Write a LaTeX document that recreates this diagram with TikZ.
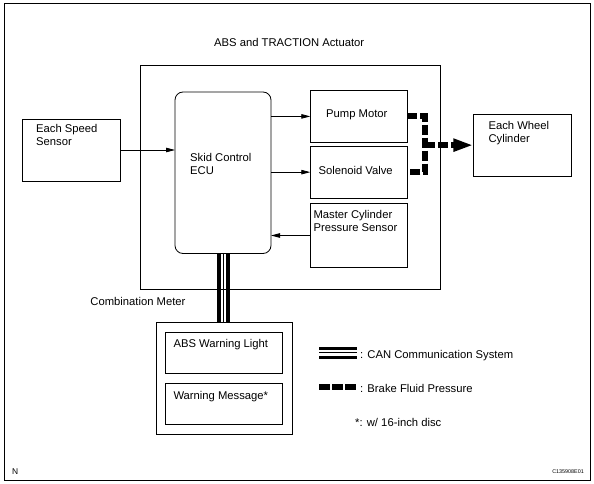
\documentclass[tikz,border=0pt]{standalone}
\usepackage{fontspec}
\setmainfont{Liberation Sans}
\usetikzlibrary{arrows.meta,calc}
\begin{document}
\begin{tikzpicture}[x=1pt,y=-1pt,
  box/.style={draw,line width=0.8pt,inner sep=0pt,outer sep=0pt},
  lbl/.style={anchor=base west,inner sep=0pt,font=\fontsize{11.25}{13.5}\selectfont},
  lblr/.style={anchor=base east,inner sep=0pt,font=\fontsize{11.25}{13.5}\selectfont},
  arr/.style={line width=0.8pt,-{Triangle[length=9pt,width=4.5pt]}},
  fluid/.style={line width=6pt,dash pattern=on 10pt off 3pt,line join=miter,line cap=butt},
  canthick/.style={line width=4pt},
  canthin/.style={line width=0.8pt}]
\useasboundingbox (0,0) rectangle (594,484);
\draw[line width=0.9pt] (4.5,3) rectangle (590,480.5);

% actuator frame
\node[box,minimum width=300.5pt,minimum height=223.3pt] (act) at (290.25,177.35) {};
\node[lbl] (acttxt) at (214,46.3) {ABS and TRACTION Actuator};

% boxes
\node[box,minimum width=98pt,minimum height=62pt] (speed) at (71,150) {};
\node[box,rounded corners=8pt,minimum width=96pt,minimum height=161.5pt] (ecu) at (223,172.75) {};
\node[box,minimum width=97pt,minimum height=51.8pt] (pump) at (358.8,116.4) {};
\node[box,minimum width=97pt,minimum height=51.7pt] (sol) at (358.8,172.15) {};
\node[box,minimum width=97pt,minimum height=64.4pt] (master) at (358.8,235.5) {};
\node[box,minimum width=98pt,minimum height=61.7pt] (wheel) at (522.3,145.15) {};
\node[box,minimum width=135.6pt,minimum height=111.7pt] (meter) at (224.5,378.15) {};
\node[box,minimum width=117.4pt,minimum height=41pt] (absw) at (224,352.8) {};
\node[box,minimum width=117.4pt,minimum height=41pt] (warnm) at (224,403.8) {};

% texts
\node[lbl] (t1a) at (36,132.7) {Each Speed};
\node[lbl] (t1b) at (36,146) {Sensor};
\node[lbl] (t2a) at (190,161) {Skid Control};
\node[lbl] (t2b) at (190,174) {ECU};
\node[lbl] (t3) at (326,117.5) {Pump Motor};
\node[lbl] (t4) at (318.3,174.3) {Solenoid Valve};
\node[lbl] (t5a) at (313.3,218.7) {Master Cylinder};
\node[lbl] (t5b) at (313.3,231.7) {Pressure Sensor};
\node[lbl] (t6a) at (488.3,129.4) {Each Wheel};
\node[lbl] (t6b) at (488.3,142.8) {Cylinder};
\node[lblr] (t7) at (185.7,305.3) {Combination Meter};
\node[lbl] (t8) at (173.3,347.3) {ABS Warning Light};
\node[lbl] (t9) at (173.3,399.3) {Warning Message*};

% signal arrows
\draw[arr] (speed.east) -- (speed.east -| ecu.west);
\draw[arr] (ecu.east |- pump.west) -- (pump.west);
\draw[arr] (ecu.east |- sol.west) -- (sol.west);
\draw[arr] (master.west) -- (master.west -| ecu.east);

% brake fluid
\coordinate (jx) at (425,145.15);
\draw[fluid] (pump.east) -- (pump.east -| jx) -- (sol.east -| jx) -- (sol.east);
\draw[fluid,-{Triangle[length=20pt,width=12pt]}] (jx) -- (wheel.west);

% CAN lines
\draw[canthick] (ecu.south) ++(-4.3,0) coordinate (c1) -- (c1 |- meter.north);
\draw[canthin] (ecu.south) ++(0,0) coordinate (c2) -- (c2 |- meter.north);
\draw[canthick] (ecu.south) ++(4.9,0) coordinate (c3) -- (c3 |- meter.north);

% legend
\draw[line width=3pt] (319,348.8) -- (357,348.8);
\draw[line width=0.9pt] (319,352.8) -- (357,352.8);
\draw[line width=3.6pt] (319,357.5) -- (357,357.5);
\node[lbl] (lg1) at (360,358.3) {: CAN Communication System};
\draw[line width=5.7pt,dash pattern=on 10.5pt off 2.5pt] (319,387.2) -- (357,387.2);
\node[lbl] (lg2) at (360,392.7) {: Brake Fluid Pressure};
\node[lbl] (lg3) at (355,426.7) {*: w/ 16-inch disc};

\node[anchor=base west,inner sep=0pt,font=\fontsize{8.4}{10}\selectfont] (nn) at (12,474) {N};
\node[anchor=base east,inner sep=0pt,font=\fontsize{5.4}{6}\selectfont] (code) at (584,473) {C135908E01};
\end{tikzpicture}
\end{document}
